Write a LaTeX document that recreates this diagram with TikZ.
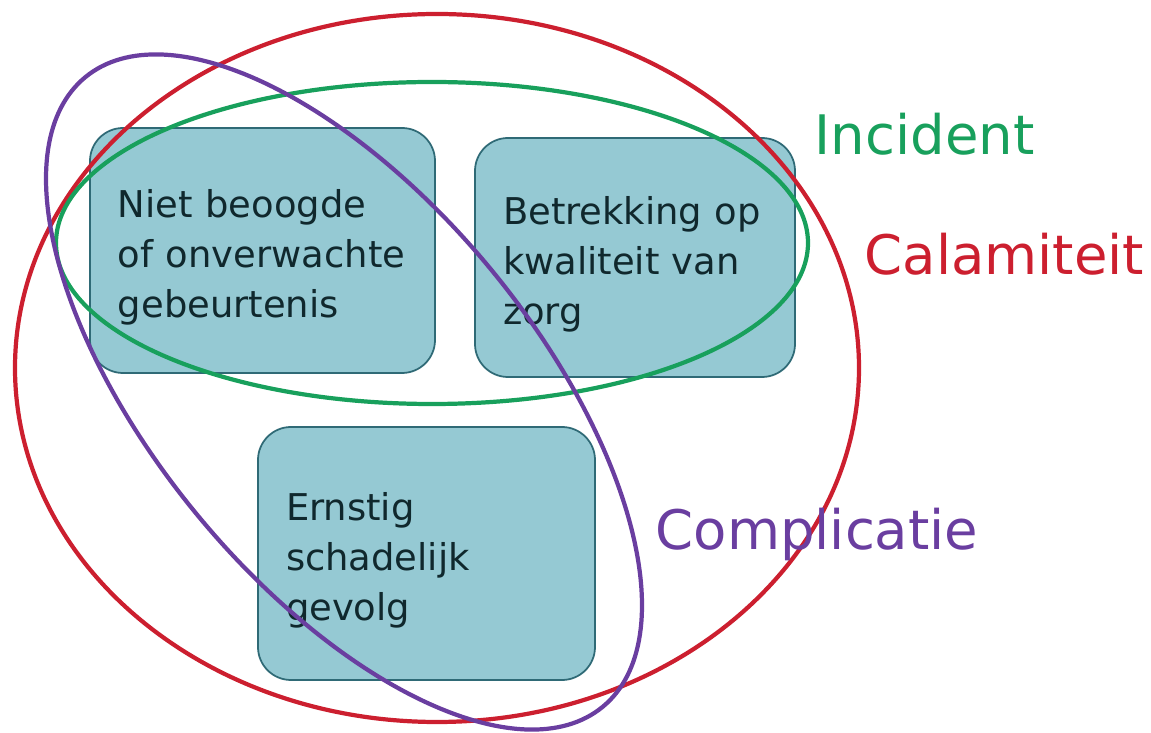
\documentclass[tikz,border=0pt]{standalone}
\usepackage{fontspec}
\setmainfont{DejaVu Sans}
\usetikzlibrary{positioning}
\definecolor{BoxFill}{HTML}{95C9D3}
\definecolor{BoxEdge}{HTML}{2F6A76}
\definecolor{InkDark}{HTML}{10282D}
\definecolor{CalRed}{HTML}{CC1F2F}
\definecolor{IncGreen}{HTML}{18A05C}
\definecolor{CompPurple}{HTML}{6A3EA0}

\begin{document}
\begin{tikzpicture}[
    box/.style={draw=BoxEdge,line width=.5pt,fill=BoxFill,rounded corners=.33cm,
      inner xsep=.28cm,align=left,text=InkDark,text height=12pt,
      font=\fontsize{10.5}{14.2}\selectfont},
    ring/.style={line width=1.2pt},
    lbl/.style={anchor=base west,inner sep=0pt,font=\fontsize{15.5}{18}\selectfont}]
    \useasboundingbox (0,0) rectangle (11.51,7.33);
    % the three criteria
    \node[box,minimum width=3.45cm,minimum height=2.45cm,text width=2.89cm] (onverwacht) at (2.625,4.825)
      {Niet beoogde\\of onverwachte\\gebeurtenis};
    \node[box,minimum width=3.20cm,minimum height=2.39cm,text width=2.64cm] (kwaliteit) at (6.35,4.755)
      {Betrekking op\\kwaliteit van\\zorg};
    \node[box,minimum width=3.37cm,minimum height=2.53cm,text width=2.81cm] (schade) at (4.265,1.795)
      {Ernstig\\schadelijk\\gevolg};
    % the three sets
    \draw[ring,CalRed] (4.37,3.65) ellipse [x radius=4.22cm,y radius=3.54cm];
    \draw[ring,IncGreen] (4.32,4.90) ellipse [x radius=3.76cm,y radius=1.61cm];
    \draw[ring,CompPurple,rotate around={-50.6:(3.44,3.41)}] (3.44,3.41) ellipse [x radius=4.075cm,y radius=1.914cm];
    \node[lbl,text=IncGreen] (incident) at (8.14,5.78) {Incident};
    \node[lbl,text=CalRed] (calamiteit) at (8.64,4.58) {Calamiteit};
    \node[lbl,text=CompPurple] (complicatie) at (6.55,1.83) {Complicatie};
  \end{tikzpicture}
\end{document}
